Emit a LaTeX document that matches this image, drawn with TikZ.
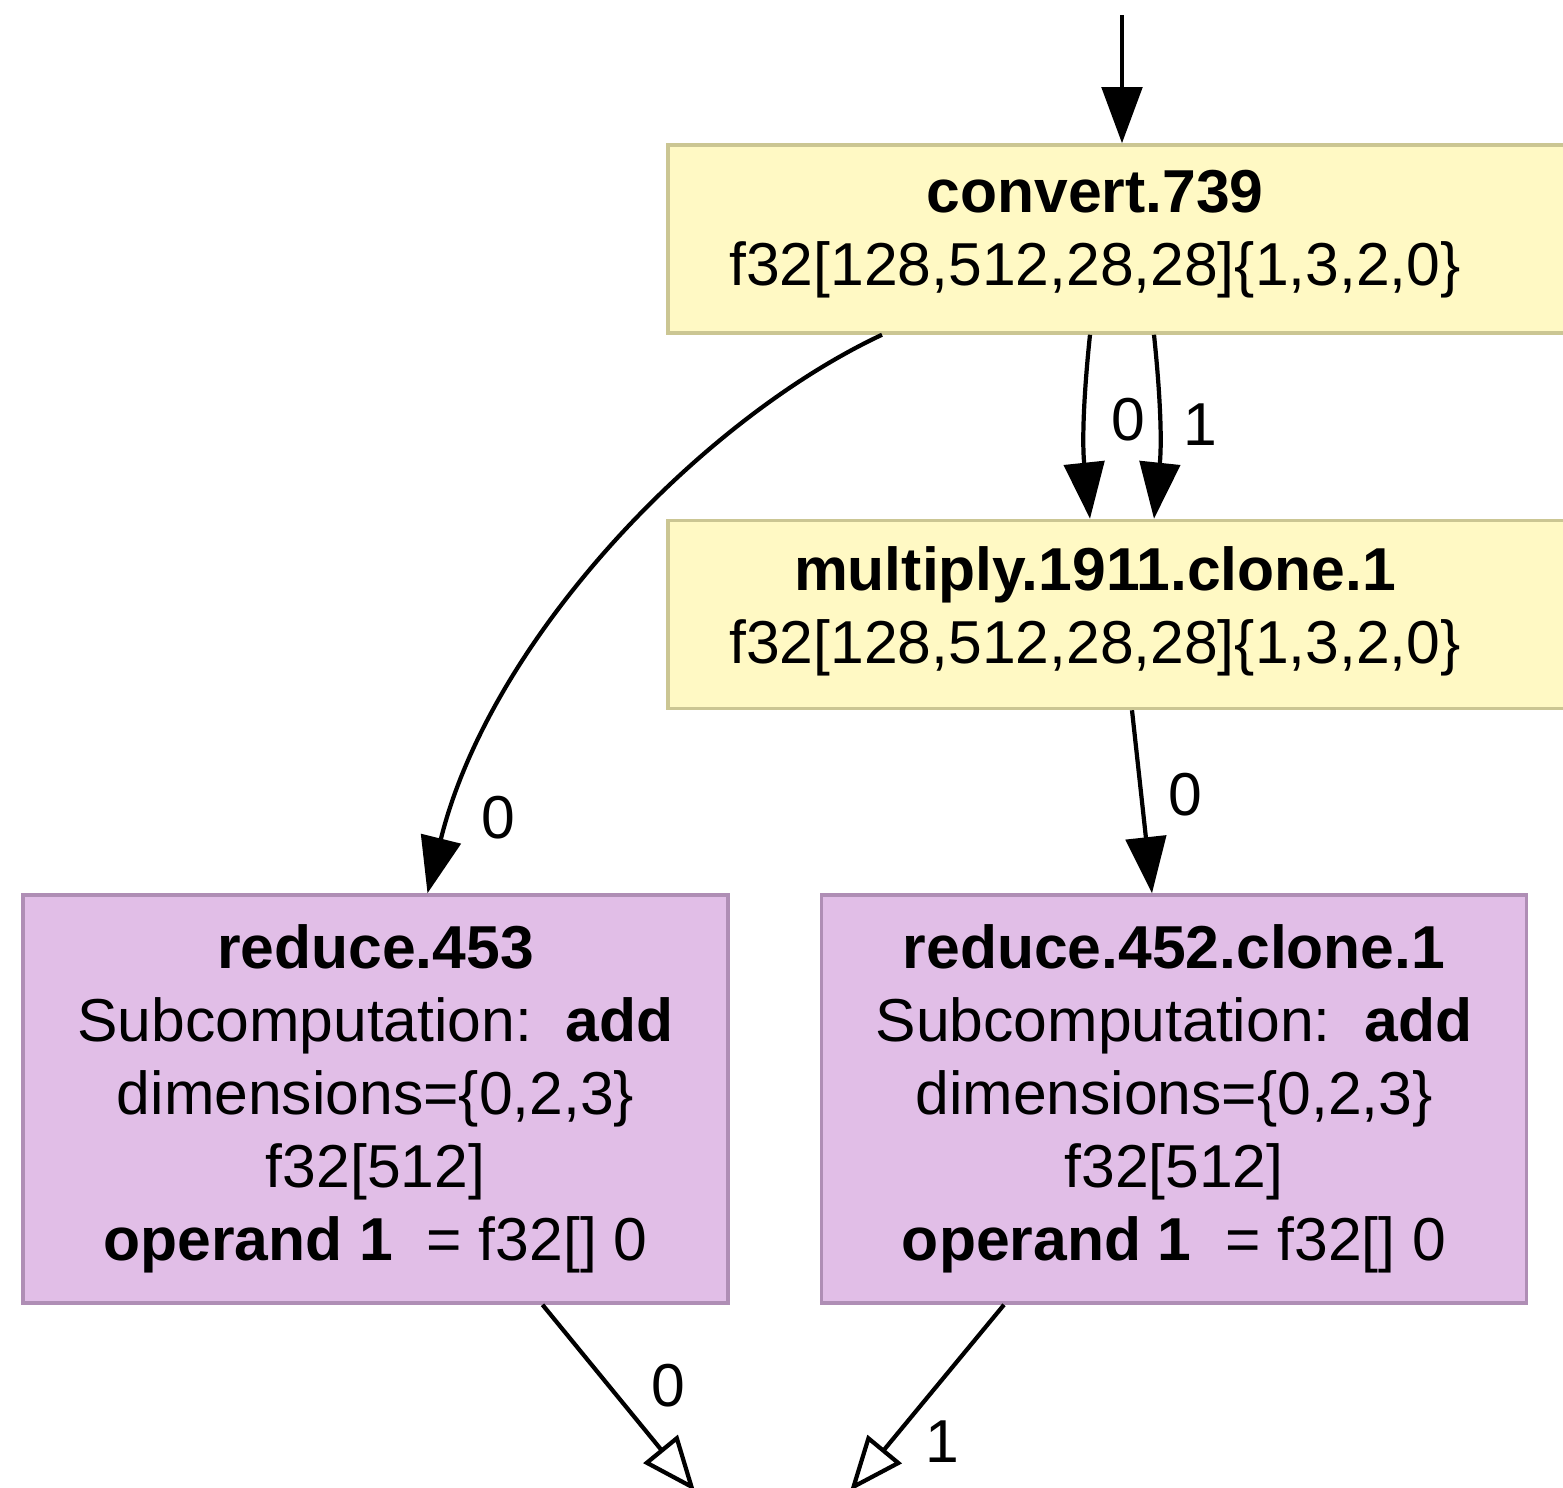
\documentclass[tikz,border=0pt]{standalone}
\usepackage{fontspec}
\setmainfont{Liberation Sans}
\usepackage{tikz}
\usetikzlibrary{arrows.meta}
\def\pxu{0.02cm}
\definecolor{ybox}{HTML}{FFF9C4}
\definecolor{yline}{HTML}{CBC693}
\definecolor{pbox}{HTML}{E1BEE7}
\definecolor{pline}{HTML}{AF8EB5}

\begin{document}
\begin{tikzpicture}[x=\pxu, y=-\pxu, line width=2.4pt, font=\fontsize{34.5}{41.5}\selectfont]
		\tikzstyle{yellowbox}=[rectangle, fill=ybox, draw=yline, line width=2pt, minimum width=912*\pxu, minimum height=188*\pxu, inner sep=0pt]
		\tikzstyle{purplebox}=[rectangle, fill=pbox, draw=pline, line width=2pt, minimum width=705*\pxu, minimum height=408*\pxu, align=center, inner sep=0pt]
		\tikzstyle{boxtext}=[align=center, inner sep=0pt]
		\tikzstyle{lbl}=[inner sep=0pt]
		\tikzstyle{fullarrow}=[-{Triangle[length=32pt, width=23pt]}]
		\tikzstyle{openarrow}=[-{Triangle[open, length=31pt, width=25pt]}]

		\clip (0,0) rectangle (1563,1488);

		% Draw the boxes
		\node[yellowbox] (convert) at (1124,239) {};
		\node[boxtext] (convertlbl) at (1095,234) {\textbf{convert.739}\\ f32[128,512,28,28]\{1,3,2,0\}};
		\node[yellowbox] (multiply) at (1124,614.5) {};
		\node[boxtext] (multiplylbl) at (1095,611) {\textbf{multiply.1911.clone.1}\\ f32[128,512,28,28]\{1,3,2,0\}};
		\node[purplebox] (reduce453) at (375.5,1099) {\textbf{reduce.453}\\ Subcomputation:\ \ \textbf{add}\\ dimensions=\{0,2,3\}\\ f32[512]\\ \textbf{operand 1}\ \ = f32[] 0};
		\node[purplebox] (reduce452) at (1174,1099) {\textbf{reduce.452.clone.1}\\ Subcomputation:\ \ \textbf{add}\\ dimensions=\{0,2,3\}\\ f32[512]\\ \textbf{operand 1}\ \ = f32[] 0};

		\coordinate (top) at (1122,15);
		\coordinate (tip0) at (695,1491);
		\coordinate (tip1) at (850,1491);

		% Draw arrows
		\draw[fullarrow] (top) -- (top |- convert.north);
		\draw[fullarrow] ([xshift=-34*\pxu]convert.south) to[bend right=6] ([xshift=-34*\pxu]multiply.north);
		\draw[fullarrow] ([xshift=30*\pxu]convert.south) to[bend left=6] ([xshift=30*\pxu]multiply.north);
		\draw[fullarrow] ([xshift=-242*\pxu]convert.south) .. controls (700,420) and (490,640) .. ([xshift=52*\pxu]reduce453.north);
		\draw[fullarrow] ([xshift=8*\pxu]multiply.south) -- ([xshift=-22*\pxu]reduce452.north);
		\draw[openarrow] ([xshift=167*\pxu]reduce453.south) -- (tip0);
		\draw[openarrow] ([xshift=-170*\pxu]reduce452.south) -- (tip1);

		% Edge labels
		\node[lbl] (e0) at (1128,420) {0};
		\node[lbl] (e1) at (1200,425) {1};
		\node[lbl] (e2) at (498,818) {0};
		\node[lbl] (e3) at (1185,795) {0};
		\node[lbl] (e4) at (668,1386) {0};
		\node[lbl] (e5) at (942,1442) {1};

		\end{tikzpicture}
\end{document}
